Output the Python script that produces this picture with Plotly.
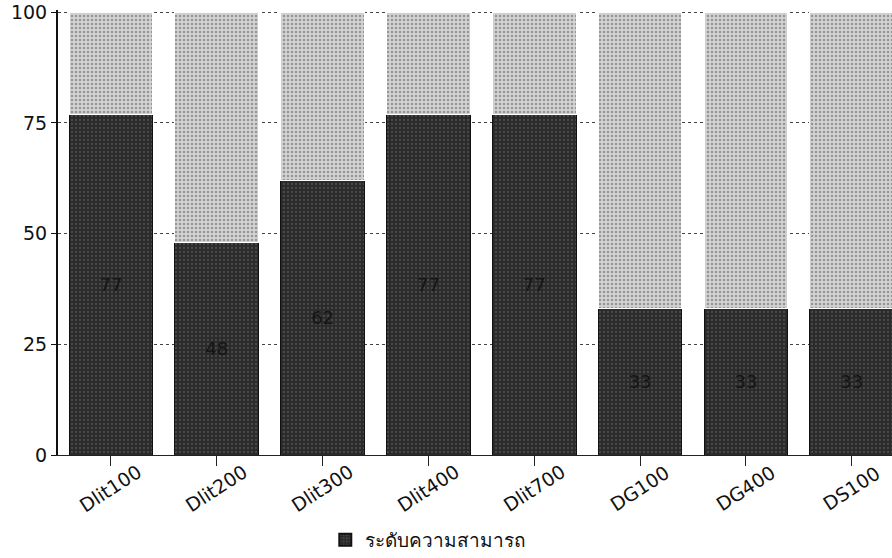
import plotly.graph_objects as go

categories = ["Dlit100", "Dlit200", "Dlit300", "Dlit400", "Dlit700", "DG100", "DG400", "DS100"]
ability = [77, 48, 62, 77, 77, 33, 33, 33]
remainder = [100 - v for v in ability]
series_name = "ระดับความสามารถ"
y_ticks = [0, 25, 50, 75, 100]

fig = go.Figure()
fig.add_trace(go.Bar(
    x=categories, y=ability, name=series_name,
    marker=dict(color="#333333", line=dict(color="#111111", width=1),
                pattern=dict(shape=".", fgcolor="#6a6a6a", bgcolor="#2a2a2a", size=4, solidity=0.25)),
    text=ability, textposition="inside", insidetextanchor="middle",
    textfont=dict(color="#151515", size=18, family="DejaVu Sans"),
    showlegend=True,
))
fig.add_trace(go.Bar(
    x=categories, y=remainder, name="",
    marker=dict(color="#c4c4c4", line=dict(color="#ffffff", width=1),
                pattern=dict(shape=".", fgcolor="#555555", bgcolor="#d2d2d2", size=4, solidity=0.3)),
    showlegend=False, hoverinfo="skip",
))

for c in categories:
    fig.add_annotation(
        x=c, xref="x", y=-0.075, yref="paper", text=c, showarrow=False,
        textangle=-33, xanchor="center", yanchor="middle",
        font=dict(size=19, family="DejaVu Sans", color="#111111"),
    )

fig.update_layout(
    barmode="stack", bargap=0.21,
    width=892, height=558,
    margin=dict(l=58, r=0, t=10, b=103, autoexpand=False),
    plot_bgcolor="white", paper_bgcolor="white",
    font=dict(family="DejaVu Sans", color="#111111"),
    legend=dict(orientation="h", x=0.444, xanchor="center", y=-0.191, yanchor="middle",
                font=dict(size=19), itemsizing="constant"),
)
fig.update_xaxes(
    range=[-0.5, 7.38], ticks="outside", ticklen=10, tickcolor="#222",
    showticklabels=False, showline=True, linecolor="#222", linewidth=1,
    showgrid=False, automargin=False,
)
fig.update_yaxes(
    range=[0, 100.5], tickvals=y_ticks, ticks="outside", ticklen=5, tickcolor="#111",
    tickfont=dict(size=19), showline=True, linecolor="#111", linewidth=2,
    ticklabeloverflow="allow",
    showgrid=True, gridcolor="#444", griddash="dot", gridwidth=1,
    zeroline=False, automargin=False,
)

fig.write_html("out.html", config={"displayModeBar": False},
               post_script="document.body.style.margin='0';")
